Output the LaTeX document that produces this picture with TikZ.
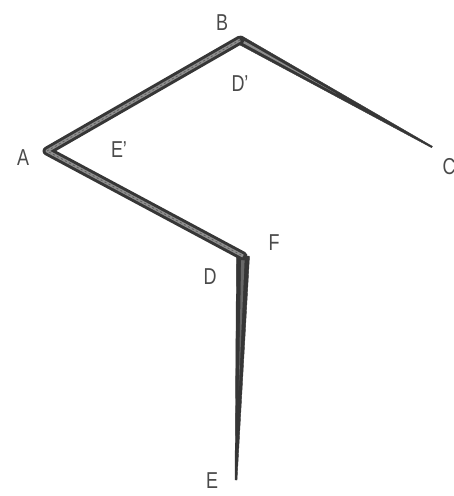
\documentclass[tikz,border=0pt]{standalone}
\usepackage{fontspec}
\setmainfont[FakeStretch=0.78]{Liberation Sans}
\usetikzlibrary{calc}
\definecolor{ink}{HTML}{363636}
\definecolor{mid}{HTML}{8E8E8E}
\tikzset{
  lbl/.style={font=\fontsize{23}{26}\selectfont, text=ink!90, inner sep=0pt},
  bandouter/.style={draw=ink, line width=9pt, line join=round, line cap=round},
  bandinner/.style={draw=mid, line width=3pt, line join=round},
  bandtex/.style={draw=ink!80, line width=0.8pt, dash pattern=on 2pt off 2.5pt},
  taper/.style={fill=ink, draw=ink, line width=0.4pt, line join=round},
  taperin/.style={fill=mid}
}
\begin{document}
\begin{tikzpicture}[x=1pt, y=-1pt]
\useasboundingbox (0,0) rectangle (454,496);
\coordinate (A) at (47,151);
\coordinate (B) at (240,40);
\coordinate (C) at (432,147);
\coordinate (F) at (243,256);
\coordinate (E) at (236,480);
% tapering limbs
\fill[taper] ($(B)!4.4pt!90:(C)$) -- ($(B)!4.4pt!-90:(C)$) -- ($(C)!0.8pt!90:(B)$) -- ($(C)!0.8pt!-90:(B)$) -- cycle;
\fill[taperin] ($(B)!1.3pt!90:(C)$) -- ($(B)!1.3pt!-90:(C)$) -- ($(B)!0.5!(C)$) -- cycle;
\fill[taper] ($(F)!6.5pt!90:(E)$) -- ($(F)!6.5pt!-90:(E)$) -- ($(E)!1pt!90:(F)$) -- ($(E)!1pt!-90:(F)$) -- cycle;
\fill[taperin, fill=ink!75] ($(F)!1.8pt!90:(E)$) -- ($(F)!1.8pt!-90:(E)$) -- ($(F)!0.6!(E)$) -- cycle;
% banded limbs
\draw[bandouter] (B) -- (A) -- (F);
\draw[bandinner] (B) -- (A) -- (F);
\draw[bandtex] (B) -- (A) -- (F);
% labels
\node[lbl] (lA) at (23,158) {A};
\node[lbl] (lB) at (222,23) {B};
\node[lbl] (lC) at (449,167) {C};
\node[lbl] (lDp) at (240,84) {D'};
\node[lbl] (lEp) at (119,150) {E'};
\node[lbl] (lF) at (274,243) {F};
\node[lbl] (lD) at (210,277) {D};
\node[lbl] (lE) at (212,481) {E};
\end{tikzpicture}
\end{document}
